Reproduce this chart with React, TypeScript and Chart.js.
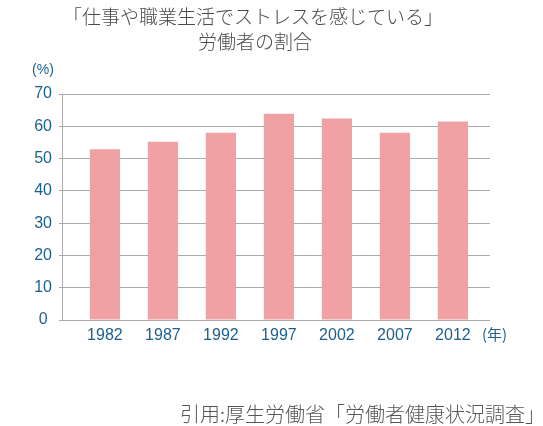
import React, { useEffect, useRef } from "react";
import { Chart, registerables } from "chart.js";

Chart.register(...registerables);

const years = ["1982", "1987", "1992", "1997", "2002", "2007", "2012"];
const stressRates = [52.9, 55.2, 58.0, 63.9, 62.4, 58.0, 61.5];
const yTicks = [0, 10, 20, 30, 40, 50, 60, 70];
const titleLines = ["「仕事や職業生活でストレスを感じている」", "労働者の割合"];
const yUnit = "(%)";
const xUnit = "(年)";
const sourceText = "引用:厚生労働省「労働者健康状況調査」";

const FONT = '"Noto Sans CJK JP", "Noto Sans", sans-serif';
const NUM_FONT = '"Liberation Sans", Arial, sans-serif';
const TICK_COLOR = "#1d5f8c";

const textPlugin = {
  id: "extraText",
  afterDraw(chart: any) {
    const ctx = chart.ctx;
    const area = chart.chartArea;
    ctx.save();
    ctx.fillStyle = "#4a4a4a";
    ctx.font = `300 19px ${FONT}`;
    ctx.textAlign = "center";
    ctx.textBaseline = "middle";
    ctx.fillText(titleLines[0], 253, 17);
    ctx.fillText(titleLines[1], 255, 42);

    ctx.fillStyle = TICK_COLOR;
    ctx.font = `14px ${NUM_FONT}`;
    ctx.textAlign = "center";
    ctx.fillText(yUnit, 43, 70);

    ctx.font = `15px ${FONT}`;
    ctx.textAlign = "left";
    ctx.fillText(xUnit, area.right - 8, 334);

    ctx.fillStyle = "#555";
    ctx.font = `300 20px ${FONT}`;
    ctx.textAlign = "right";
    ctx.fillText(sourceText, 545, 414);
    ctx.restore();
  },
};

export default function App() {
  const ref = useRef<HTMLCanvasElement>(null);

  useEffect(() => {
    if (!ref.current) return;
    const chart = new Chart(ref.current, {
      type: "bar",
      data: {
        datasets: [
          {
            data: stressRates.map((v, i) => ({ x: i, y: v })),
            backgroundColor: "#f0a1a3",
            borderWidth: 0,
            barPercentage: 0.52,
            categoryPercentage: 1,
          },
        ],
      },
      options: {
        animation: false,
        responsive: false,
        devicePixelRatio: 1,
        layout: { padding: { left: 0, right: 53, top: 94, bottom: 0 } },
        plugins: {
          legend: { display: false },
          tooltip: { enabled: false },
          title: { display: false },
        },
        scales: {
          x: {
            type: "linear",
            min: -0.74,
            max: 6.64,
            offset: false,
            grid: { display: false, drawTicks: false, offset: false },
            border: { display: false },
            afterBuildTicks: (scale: any) => {
              scale.ticks = years.map((_, i) => ({ value: i }));
            },
            afterFit: (scale: any) => {
              scale.height = 106;
            },
            ticks: {
              color: TICK_COLOR,
              font: { family: NUM_FONT, size: 16 },
              padding: 6,
              maxRotation: 0,
              autoSkip: false,
              callback: (v: any) => years[v] ?? "",
            },
          },
          y: {
            min: 0,
            max: 70,
            afterBuildTicks: (scale: any) => {
              scale.ticks = yTicks.map((v) => ({ value: v }));
            },
            afterFit: (scale: any) => {
              scale.width = 62;
            },
            grid: { color: "#aaaaaa", lineWidth: 1, tickLength: 3 },
            border: { display: true, color: "#aaaaaa" },
            ticks: {
              color: TICK_COLOR,
              font: { family: NUM_FONT, size: 16 },
              padding: 7,
              crossAlign: "center",
            },
          },
        },
      },
      plugins: [textPlugin],
    } as any);
    return () => chart.destroy();
  }, []);

  return (
    <div style={{ position: "absolute", left: 0, top: 0, width: 543, height: 426, background: "#fff" }}>
      <canvas ref={ref} width={543} height={426} />
    </div>
  );
}
